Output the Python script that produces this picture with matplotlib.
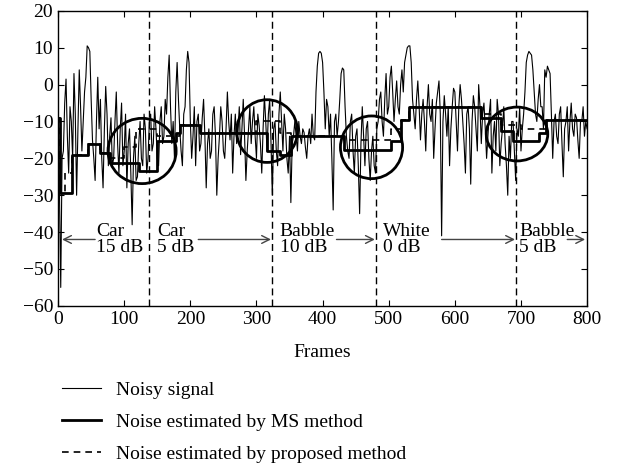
import numpy as np
import matplotlib.pyplot as plt
from matplotlib.patches import Ellipse
from matplotlib.lines import Line2D

plt.rcParams["font.family"] = ["Liberation Serif", "DejaVu Serif"]
plt.rcParams["font.size"] = 14

# noisy signal, one value every 2 frames (0 ... 800)
frames = np.arange(0, 801, 2)
noisy = [
    -8, -28, -55, -20, -18, -5, 1.5, -14, -24, -6, -10, -20, 3, -8, -30, -12, 4, -6, -18, -10,
    -2, 2, 10.5, 10, 9, -4, -15, -20, -26, -10, 2, -12, -4, -20, -28, -12, -0.5, -8, -22, -14,
    -9, -22, -20, -10, -2, -16, -24, -12, -5, -22, -18, -8, -28, -16, -12, -24, -38, -20, -14, -26,
    -25, -16, -10, -20, -22, -8, -12, -24, -20, -10, -8, -18, -16, -6, -12, -20, -22, -10, -6, -16,
    -14, -4, -8, 2, 8, -6, -16, -10, -20, -2, 6, -4, -12, -18, -22, -8, -6, 4, 9, 6,
    -10, -20, -14, -6, -22, -10, -8, -18, -16, -9, -4, -14, -28, -16, -12, -20, -18, -8, -6, -14,
    -30, -20, -14, -6, -10, -18, -20, -12, -2, -10, -15, -8, -24, -14, -8, -16, -13, -6, -19, -12,
    -4, -14, -26, -18, -12, -6, -16, -10, -6, -14, -20, -8, -11, -16, -24, -12, -3, -10, -18, -8,
    -4, -16, -30, -12, -10, -18, -22, -8, -2, -10, -18, -8, -12, -20, -24, -14, -32, -16, -14, -10,
    -14, -18, -10, -14, -16, -12, -13, -17, -20, -14, -12, -16, -8, -14, -15, -2, 5, 8.5, 9, 8.5,
    6, -2, -12, -4, -6, -14, -8, -20, -34, -10, -8, -14, -10, -4, 3, 4.5, 4, -6, -14, -18,
    -20, -10, -8, -18, -24, -14, -12, -22, -35, -16, -6, -14, -22, -12, -10, -20, -26, -18, -14, -22,
    -24, -12, -10, -4, -2, -10, -14, -4, 3, -8, -6, 2, 5, -2, -10, -4, 1, -6, -8, 0,
    4, -2, 6, 8, 10, 10.5, 10.5, 6, -4, -8, -12, -4, 1, -6, -15, -8, -4, -10, -18, -6,
    0, -8, -10, -4, -20, -12, -5, -2, 1, -8, -41, -10, -3, -8, -14, -6, -22, -12, -6, -1,
    -2, -10, -18, -6, 0, -4, -10, -16, -24, -8, -6, -12, -27, -10, -3, -6, -12, -18, 0, -6,
    -16, -8, -5, -12, -20, -14, -8, -4, -24, -14, -10, -18, -4, -8, -22, -16, -12, -6, -16, -22,
    -30, -14, -20, -10, -10, -18, -26, -12, -14, -6, -18, -12, -8, -2, 6, 8, 9, 8.5, 8, 4,
    -2, -8, -10, -4, 0, -6, -6, -12, 4, 2, 5, 4, 3, -8, -20, -10, -8, -14, -16, -8,
    -6, -16, -25, -12, -10, -6, -18, -10, -5, -12, -14, -8, -9, -15, -20, -10, -10, -6, -14, -10,
    -12,
]

# noise estimate of the MS method (step levels)
ms_frames = [0, 3, 21, 45, 64, 79, 122, 150, 178, 185, 215, 316, 336, 352,
             432, 503, 518, 530, 639, 670, 688, 728, 738, 800]
ms_level = [-9, -29.3, -19.2, -16.1, -18.5, -21.2, -23.4, -15.4, -13, -10.9,
            -13.1, -18, -19, -14, -17.7, -15.4, -9.6, -6.1, -9, -12.7,
            -15.4, -13, -9.7, -9.7]

# noise estimate of the proposed method (step levels)
prop_frames = [0, 3, 10, 21, 45, 64, 79, 100, 118, 150, 185, 215, 300, 336,
               352, 432, 503, 518, 530, 639, 670, 700, 738, 800]
prop_level = [-9, -29, -24, -19.2, -16.1, -18.5, -20, -17, -12, -14, -10.9,
              -13.1, -10, -13, -14, -15, -12, -9.6, -6.1, -8, -11, -12,
              -9.7, -9.7]

boundaries = [137, 323, 481, 693]
segment_labels = ["Car\n15 dB", "Car\n5 dB", "Babble\n10 dB", "White\n0 dB", "Babble\n5 dB"]

# label x position, arrow start, arrow end
label_x = [58, 150, 335, 492, 697]
arrows = [(56, 6), (212, 322), (421, 479), (580, 691), (770, 797)]

# highlighted regions: centre x, centre y, width, height
circles = [(127, -18, 103, 17.7), (316, -12.6, 92, 17), (474, -17, 94, 17), (694, -13.4, 93, 14.6)]

fig = plt.figure(figsize=(6.18, 4.72), dpi=100)
ax = fig.add_axes([0.094, 0.352, 0.856, 0.625])

ax.plot(frames, noisy, color="black", linewidth=0.8)
ax.plot(ms_frames, ms_level, color="black", linewidth=2.0, drawstyle="steps-post")
ax.plot(prop_frames, prop_level, color="black", linewidth=1.2, linestyle=(0, (4, 3)),
        drawstyle="steps-post")

for b in boundaries:
    ax.axvline(b, color="black", linewidth=1.0, linestyle=(0, (5, 3)))

for cx, cy, w, h in circles:
    ax.add_patch(Ellipse((cx, cy), w, h, fill=False, edgecolor="black", linewidth=2.0))

for text, x, (a0, a1) in zip(segment_labels, label_x, arrows):
    ax.text(x, -42, text, ha="left", va="center", fontsize=14, linespacing=0.95)
    ax.annotate("", xy=(a1, -42), xytext=(a0, -42),
                arrowprops=dict(arrowstyle="->", color="#444444", linewidth=1.0,
                                shrinkA=0, shrinkB=0))

ax.set_xlim(0, 800)
ax.set_ylim(-60, 20)
ax.set_xticks(range(0, 801, 100))
ax.set_yticks(range(-60, 21, 10))
ax.tick_params(direction="in", top=True, right=True, length=4, width=0.8, labelsize=14)
for s in ax.spines.values():
    s.set_linewidth(1.0)
ax.set_xlabel("Frames", fontsize=14, labelpad=12)

handles = [
    Line2D([], [], color="black", linewidth=0.8),
    Line2D([], [], color="black", linewidth=2.0),
    Line2D([], [], color="black", linewidth=1.2, linestyle=(0, (4, 3))),
]
names = ["Noisy signal", "Noise estimated by MS method", "Noise estimated by proposed method"]
fig.legend(handles, names, loc="upper left", bbox_to_anchor=(0.10, 0.192), frameon=False,
           fontsize=14, handlelength=2.0, handletextpad=0.8, labelspacing=0.73,
           borderpad=0, borderaxespad=0)

fig.savefig("out.png", dpi=100)
